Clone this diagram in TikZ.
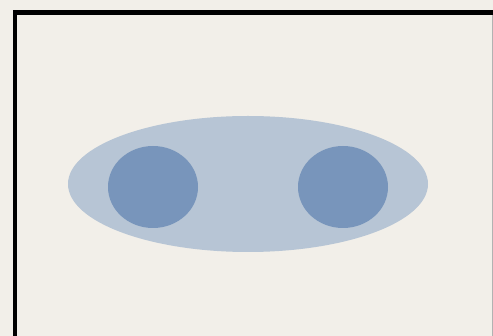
\documentclass[tikz,border=0pt]{standalone}
\usetikzlibrary{shapes.geometric}

\definecolor{paper}{HTML}{F2EFE9}
\definecolor{blobfill}{HTML}{B7C5D5}
\definecolor{dotfill}{HTML}{7895BB}

\begin{document}
\begin{tikzpicture}[x=1pt,y=-1pt,
    blob/.style={ellipse,fill=blobfill,draw=none,inner sep=0pt},
    dot/.style={ellipse,fill=dotfill,draw=none,inner sep=0pt,minimum width=90pt,minimum height=82pt}]
    \useasboundingbox[fill=paper] (0,0) rectangle (493,336);
    \coordinate (frameL) at (15,345);
    \coordinate (frameTL) at (15,12.5);
    \coordinate (frameTR) at (500,12.5);
    \draw[line width=4.7pt] (frameL) -- (frameTL) -- (frameTR);
    \draw[gray!60,line width=0.8pt] (492,15) -- (492,340);
    \node[blob,minimum width=360pt,minimum height=136pt] (outer) at (248,184) {};
    \node[dot] (left) at (153,187) {};
    \node[dot] (right) at (343,187) {};
\end{tikzpicture}
\end{document}
